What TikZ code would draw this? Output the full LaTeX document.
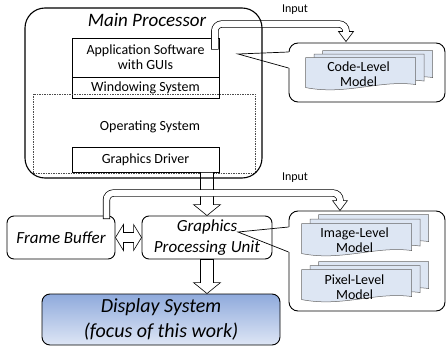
\documentclass[tikz,border=0pt]{standalone}
\usepackage{fontspec}
\setmainfont{Carlito}
\usetikzlibrary{calc,positioning}
\definecolor{sheetblue}{RGB}{221,230,243}
\definecolor{disptop}{RGB}{143,170,220}
\definecolor{dispbot}{RGB}{222,230,245}
\tikzset{
  fatdown/.style={
    to path={
      let \p1=(\tikztostart), \p2=(\tikztotarget) in
      (\x1-6.5pt,\y1) -- (\x1-6.5pt,\y2+11pt) -- (\x1-13.5pt,\y2+11pt) -- (\x1,\y2)
      -- (\x1+13.5pt,\y2+11pt) -- (\x1+6.5pt,\y2+11pt) -- (\x1+6.5pt,\y1) -- cycle
    }
  },
  fatboth/.style={
    to path={
      let \p1=(\tikztostart), \p2=(\tikztotarget) in
      (\x1,\y1) -- (\x1+8pt,\y1+13pt) -- (\x1+8pt,\y1+5pt) -- (\x2-8pt,\y1+5pt)
      -- (\x2-8pt,\y1+13pt) -- (\x2,\y1) -- (\x2-8pt,\y1-13pt) -- (\x2-8pt,\y1-5pt)
      -- (\x1+8pt,\y1-5pt) -- (\x1+8pt,\y1-13pt) -- cycle
    }
  },
  sheet/.pic={
    \path[draw=black!60,fill=sheetblue,line width=0.5pt]
      (0,0) -- (110,0) -- (110,27) .. controls (75,22) and (40,38) .. (0,30) -- cycle;
  },
}
\newcommand\inputpipe[2]{%
  \draw[fatarrow] ($(#2)+(-7.5,0)$) -- ($(#2)+(0,10)$) -- ($(#2)+(7.5,0)$) -- cycle;
  \draw[line width=7.3pt,rounded corners=7pt] (#1) |- ($(#2)+(0,-7.5)$) -- (#2);
  \draw[white,line width=5.9pt,rounded corners=7pt,shorten <=0.8pt,shorten >=-1.5pt]
    (#1) |- ($(#2)+(0,-7.5)$) -- (#2);
}

\begin{document}
\begin{tikzpicture}[x=1pt,y=-1pt,line width=0.7pt,
box/.style={rectangle,draw,minimum width=147pt,inner sep=0pt,align=center,
  font=\fontsize{14}{15}\selectfont},
unit/.style={rectangle,draw,rounded corners=7pt,line width=0.9pt,inner sep=0pt,
  align=center,font=\fontsize{17}{21}\selectfont\itshape},
callbox/.style={rectangle,draw,rounded corners=9pt,line width=0.9pt,fill=white,
  minimum width=156pt},
modeltext/.style={align=center,font=\fontsize{14}{15}\selectfont},
fatarrow/.style={draw,fill=white,line width=0.6pt},
]
\useasboundingbox (0,0) rectangle (447,350);

% models on the right
\node[callbox,minimum height=59pt] (codecall) at (367,72.5) {};
\node[callbox,minimum height=100pt] (imgcall) at (367,261) {};
\foreach \i in {2,1,0}
  \pic at ($(codecall.north west)+({17+8.5*\i},{15-3.5*\i})$) {sheet};
\foreach \i in {2,1,0}
  \pic at ($(imgcall.north west)+({13+8.5*\i},{13-4.5*\i})$) {sheet};
\foreach \i in {2,1,0}
  \pic at ($(imgcall.north west)+({13+8.5*\i},{59-4*\i})$) {sheet};
\node[modeltext] (codemodel) at ($(codecall.north west)+(70,32)$) {Code-Level\\Model};
\node[modeltext] (imgmodel) at ($(imgcall.north west)+(66,29.5)$) {Image-Level\\Model};
\node[modeltext] (pixmodel) at ($(imgcall.north west)+(66,76.5)$) {Pixel-Level\\Model};

% software stack
\node[box,minimum height=39pt] (app) at (145.5,57.5) {Application Software\\with GUIs};
\node[box,minimum height=21pt,below=0pt of app] (win) {Windowing System};
\node[draw=black!70,line width=0.5pt,dash pattern=on 1.5pt off 1pt,
  minimum width=222pt,minimum height=79pt] (os) at (144,133.5) {};
\node[modeltext] (oslabel) at (150,127) {Operating System};
\node[box,minimum height=25pt] (driver) at (145.5,159.5) {Graphics Driver};

% hardware
\node[unit,minimum width=130pt,minimum height=43pt] (gpu) at (207,237.5)
  {Graphics\\Processing Unit};
\node[unit,minimum width=108pt,minimum height=43pt] (fb) at (61,237.5) {Frame Buffer};
\node[unit,minimum width=238pt,minimum height=51pt,rounded corners=8pt,
  top color=disptop,bottom color=dispbot,
  font=\fontsize{20}{25}\selectfont\itshape] (disp) at (161,319.5)
  {Display System\\(focus of this work)};

\draw[fatarrow] (gpu.north |- driver.south) to[fatdown] (gpu.north);
\draw[fatarrow] (gpu.south) to[fatdown] (gpu.south |- disp.north);
\draw[fatarrow] (fb.east) to[fatboth] (gpu.west);

% callout pointers
\coordinate (codetip) at (238,54);
\coordinate (gputip) at (238,232);
\fill[white] ($(codecall.west)+(-1,-20.5)$) rectangle ($(codecall.west)+(1.5,-4.5)$);
\draw ($(codecall.west)+(0,-20.5)$) -- (codetip) -- ($(codecall.west)+(0,-4.5)$);
\fill[white] ($(imgcall.west)+(-1,-34)$) rectangle ($(imgcall.west)+(1.5,-9)$);
\draw ($(imgcall.west)+(0,-34)$) -- (gputip) -- ($(imgcall.west)+(0,-9)$);

% input pipes
\coordinate (pipe1s) at ($(app.north east)+(-4.5,12)$);
\coordinate (pipe1e) at ($(codecall.north)+(-21,-11)$);
\coordinate (pipe2s) at ($(fb.north east)+(-9,3.5)$);
\coordinate (pipe2e) at ($(imgcall.north)+(-27,-10)$);
\inputpipe{pipe1s}{pipe1e}
\inputpipe{pipe2s}{pipe2e}
\node[font=\fontsize{12}{14}\selectfont] (input1) at (295,10) {Input};
\node[font=\fontsize{12}{14}\selectfont] (input2) at (295,178) {Input};

% main processor
\node[draw,rounded corners=20pt,line width=1.1pt,minimum width=237pt,
  minimum height=170pt] (mainproc) at (143.5,93) {};
\node[font=\fontsize{19}{22}\selectfont\itshape] (mptitle) at (147,20) {Main Processor};
\end{tikzpicture}
\end{document}
